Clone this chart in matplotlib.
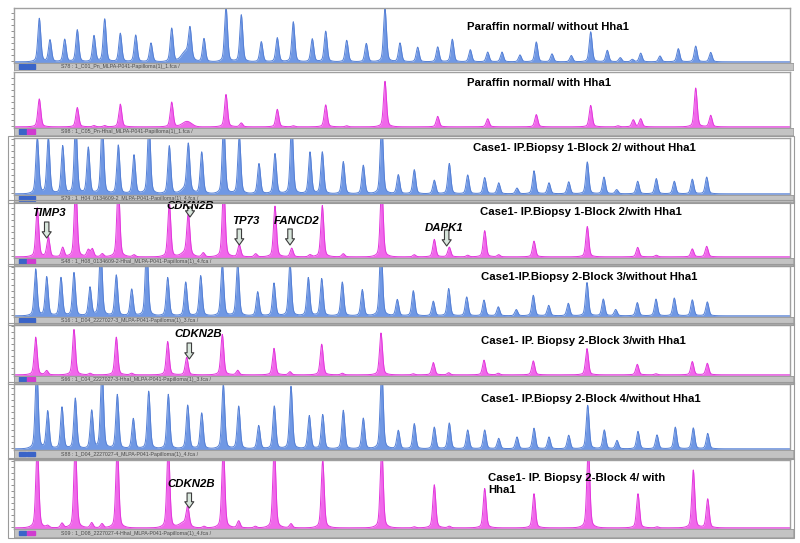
import matplotlib
matplotlib.use("Agg")
import matplotlib.pyplot as plt
from matplotlib.patches import Rectangle
import numpy as np

plt.rcParams['font.family'] = ['Liberation Sans', 'DejaVu Sans']

# peak positions (x, read in pixels) and heights (pixels above baseline) per trace
p1_pos = [39.3, 50, 64.7, 77.3, 94, 104.7, 120.3, 135.7, 151, 171.7, 190, 204, 226, 241.3, 261.3, 277.3,
          293.3, 312.3, 325.7, 346.7, 366.3, 385, 400, 417.7, 437.7, 452.3, 470.3, 487.7, 502, 520, 536.3,
          552, 571.3, 590.7, 607.3, 620.3, 632.3, 640.7, 660, 678.3, 695.7, 710.7]
p1_h = [41.6, 21, 21.6, 30.6, 25, 41, 27.3, 25.6, 18, 32.3, 27.3, 22.3, 53.3, 45, 19.3, 23, 38.3, 22, 29.3,
        20.6, 17.6, 51, 18, 14, 14.3, 21.6, 11.6, 9.3, 9.3, 6.6, 19, 7.6, 6, 28.6, 11, 4, 2.3, 8.3, 5.6,
        12.6, 15, 9]

p2_pos = [39.3, 77.3, 94, 104.7, 120.3, 171.7, 226, 241.3, 277.3, 293.3, 325.7, 346.7, 385, 437.7, 487.7,
          536.3, 590.7, 618, 633.3, 640.7, 695.7, 710.7]
p2_h = [26.7, 18.4, 1.2, 1.2, 21.7, 23.7, 31, 3.7, 16.7, 1, 21, 1, 43.4, 10, 7.7, 11.7, 20.4, 1, 6.7, 7.7,
        37, 11]

p3_pos = [37.3, 48.3, 62.7, 75.7, 88.3, 102.3, 118.3, 134, 149, 169.3, 188.3, 201.7, 223.7, 239.3, 259,
          275, 291.7, 310, 322.3, 343.3, 363.3, 381.7, 398.3, 414.3, 434.3, 449.3, 467.7, 484.7, 498.7, 517,
          534, 549, 568.7, 587.3, 604, 616.7, 637.7, 656.3, 674.3, 692.3, 706.7]
p3_h = [54, 54, 45.7, 70, 44.3, 70, 46.7, 37.3, 70, 46, 44.3, 40, 70, 56, 29, 38.3, 70, 40, 40, 30.7, 27.3,
        70, 18.3, 23, 13, 29, 18, 15.5, 10.5, 5.5, 22, 10.5, 11.5, 30.5, 16, 4, 12, 14.5, 12, 14, 16]

p4_pos = [37.3, 48.3, 62.7, 75.7, 88.3, 92.3, 102.3, 118.3, 134, 169.3, 188.3, 203.3, 223.7, 239.3, 255.7,
          275, 291.7, 310, 322.3, 343.3, 381.7, 414.3, 434.3, 449.3, 467.7, 484.7, 498.7, 534, 587.3,
          637.7, 656.3, 692.3, 706.7]
p4_h = [46.6, 19, 9, 70, 6.6, 7.5, 3, 70, 2, 52, 39, 4, 70, 11.6, 3, 48.3, 8.3, 2, 49, 3, 70, 2, 16.6, 9.3,
        1.5, 25, 2, 15, 29, 9, 1.5, 7.6, 10]

p5_pos = [35.7, 46.7, 61, 74, 90, 100.7, 116.3, 131.7, 146.7, 167.7, 185.7, 200.7, 222.3, 237.7, 257.7,
          274, 290, 308.3, 321.7, 342.3, 362.3, 381, 397.3, 413.3, 433.3, 448.7, 466.7, 484, 498.3, 516.3,
          533.3, 548.7, 568.3, 587, 603.3, 615.7, 637.3, 656, 674.3, 692.3, 707.3]
p5_h = [44.6, 37.3, 36.6, 41.3, 27.3, 70, 39, 25.6, 70, 36.6, 32.3, 38.3, 50, 50.6, 23, 31.3, 50.6, 36.6,
        35.6, 32.3, 25, 70, 15.6, 24, 14, 26, 18, 15, 8.6, 6, 19.6, 10, 12, 31.7, 16, 6, 12.6, 16, 17,
        15.3, 13.3]

p6_pos = [35.7, 46.7, 74, 90, 116.3, 131.7, 167.7, 186.7, 222.3, 237.7, 274, 290, 321.7, 342.3, 381,
          413.3, 433.3, 448.7, 484, 498.3, 533.3, 587, 637.3, 656, 692.3, 707.3]
p6_h = [36, 4, 43.3, 1.5, 36, 1.5, 31.7, 16.7, 38.7, 4.3, 25.3, 3, 29.3, 1.5, 40, 1, 11.7, 2, 14, 1.5,
        13.3, 25, 10, 1, 12.7, 11]

p7_pos = [36.7, 47.7, 62, 75.3, 91.7, 102, 117.3, 133.3, 148.7, 168.3, 187.7, 201.7, 223.3, 238.7, 258.7,
          274.3, 291, 309.3, 322.7, 343.3, 363.3, 381.7, 398.3, 414.3, 434.3, 449.3, 467.7, 484.7, 498.7,
          517, 534, 549, 568.7, 587.7, 604.3, 617, 638, 657, 675.3, 693.3, 707.7]
p7_h = [80, 36, 40, 48.3, 36.7, 80, 52, 29, 55, 52, 41.7, 34.3, 62, 40.7, 22.3, 41, 60, 31.7, 32.7, 36.7,
        29.3, 80, 17.7, 24, 20.7, 24.7, 18, 18, 10, 11.3, 19.7, 11.3, 13, 41.7, 18, 8, 16.7, 13.3, 20.7,
        20, 14.7]

p8_pos = [37.3, 47.7, 62, 75.3, 91.7, 102, 117.3, 168.3, 187.7, 204, 223.3, 238.7, 255.3, 274.3, 291,
          322.7, 381.7, 414.3, 434.3, 449.3, 484.7, 534, 588.3, 638, 657, 693.3, 707.7]
p8_h = [80, 2, 4.5, 80, 5, 4, 80, 80, 17.7, 1.5, 80, 6.7, 1.5, 80, 4, 65, 80, 1, 41, 1.5, 37.6, 32.6, 80,
        32.6, 1, 55.3, 27.6]

# broad humps under some peaks: (position, height)
humps = {0: [(186, 10)], 1: [(187, 5.4)], 2: [(186, 5)], 3: [(186, 4)], 7: [(184, 5)]}

titles = ["Paraffin normal/ without Hha1",
          "Paraffin normal/ with Hha1",
          "Case1- IP.Biopsy 1-Block 2/ without Hha1",
          "Case1- IP.Biopsy 1-Block 2/with Hha1",
          "Case1-IP.Biopsy 2-Block 3/without Hha1",
          "Case1- IP. Biopsy 2-Block 3/with Hha1",
          "Case1- IP.Biopsy 2-Block 4/without Hha1",
          "Case1- IP. Biopsy 2-Block 4/ with\nHha1"]

files = ["S78 : 1_C01_Pn_MLPA-P041-Papilloma(1)_1.fca /",
         "S98 : 1_C05_Pn-HhaI_MLPA-P041-Papilloma(1)_1.fca /",
         "S79 : 1_H04_0134609-2_MLPA-P041-Papilloma(1)_4.fca /",
         "S48 : 1_H08_0134609-2-HhaI_MLPA-P041-Papilloma(1)_4.fca /",
         "S16 : 1_D04_2227027-3_MLPA-P041-Papilloma(1)_3.fca /",
         "S66 : 1_C04_2227027-3-HhaI_MLPA-P041-Papilloma(1)_3.fca /",
         "S88 : 1_D04_2227027-4_MLPA-P041-Papilloma(1)_4.fca /",
         "S09 : 1_D08_2227027-4-HhaI_MLPA-P041-Papilloma(1)_4.fca /"]

# gene labels: panel, name, arrow x, arrow tail y, arrow tip y, text x, text y (figure pixels)
genes = [(3, "TIMP3", 46.7, 222, 238, 49, 213),
         (3, "CDKN2B", 190, 207, 217, 190, 206),
         (3, "TP73", 239.3, 229, 245, 246, 221),
         (3, "FANCD2", 290, 229, 245, 297, 221),
         (3, "DAPK1", 446.7, 230, 246, 444, 228),
         (5, "CDKN2B", 189.3, 343, 359, 198, 334),
         (7, "CDKN2B", 189.3, 493, 508, 191, 484)]

all_pos = [p1_pos, p2_pos, p3_pos, p4_pos, p5_pos, p6_pos, p7_pos, p8_pos]
all_h = [p1_h, p2_h, p3_h, p4_h, p5_h, p6_h, p7_h, p8_h]

# layout in pixels: plot top, plot bottom, strip bottom
boxes = [(8, 63, 70), (72, 128, 135), (138, 195, 202), (202, 258, 265),
         (266, 317, 324), (325, 376, 383), (384, 450, 458), (460, 529, 537)]
title_xy = [(467, 27), (467, 83), (473, 148), (480, 212), (481, 277), (481, 341), (481, 399), (488, 484)]

W, H = 800, 543
X0, X1 = 14, 790
blue_fill, blue_line = '#7098e4', '#5580d6'
pink_fill, pink_line = '#f068ea', '#e236dc'

fig = plt.figure(figsize=(W / 100, H / 100), dpi=100)
fig.patch.set_facecolor('white')

x = np.linspace(X0, X1, 4000)


def trace(pos, h, hump):
    y = np.full_like(x, 1.2)
    for p, a in zip(pos, h):
        d = x - p
        y += 0.85 * a * np.exp(-0.5 * (d / 1.45) ** 2) + 0.2 * a * np.exp(-np.abs(d) / 3.2)
    for p, a in hump:
        y += a * np.exp(-0.5 * ((x - p) / 4.5) ** 2)
    return y


axes = []
for i, (top, bot, sbot) in enumerate(boxes):
    pink = i % 2 == 1
    if i >= 2:
        fig.patches.append(Rectangle((8 / W, 1 - (sbot + 1) / H), (794 - 8) / W, (sbot - top + 3) / H,
                                     transform=fig.transFigure, fill=False, ec='#9a9a9a', lw=0.8))
    ax = fig.add_axes([X0 / W, 1 - bot / H, (X1 - X0) / W, (bot - top) / H])
    ax.set_xlim(X0, X1)
    ax.set_ylim(0, bot - top)
    y = trace(all_pos[i], all_h[i], humps.get(i, []))
    ax.fill_between(x, 0, y, color=pink_fill if pink else blue_fill, lw=0)
    ax.plot(x, y, color=pink_line if pink else blue_line, lw=0.7)
    ax.set_xticks([])
    ax.set_yticks(np.arange(2, bot - top, 6))
    ax.tick_params(axis='y', length=2.5, width=0.6, color='#808080', labelleft=False)
    for s in ax.spines.values():
        s.set_color('#a0a0a0')
        s.set_linewidth(1.0)
    tx, ty = title_xy[i]
    ax.text(tx, bot - ty, titles[i], fontsize=8.2, fontweight='bold', ha='left',
            va='center', linespacing=1.3)

    # grey file strip under each trace
    sax = fig.add_axes([X0 / W, 1 - sbot / H, (X1 + 3 - X0) / W, (sbot - bot) / H])
    sax.set_facecolor('#c3c3c3')
    sax.set_xticks([])
    sax.set_yticks([])
    for s in sax.spines.values():
        s.set_color('#9a9a9a')
        s.set_linewidth(0.6)
    sax.add_patch(Rectangle((0.006, 0.2), 0.01, 0.6, transform=sax.transAxes, color='#3a64c8'))
    sax.add_patch(Rectangle((0.017, 0.2), 0.01, 0.6, transform=sax.transAxes,
                            color='#d03cd0' if pink else '#3a64c8'))
    sax.text(0.06, 0.45, files[i], transform=sax.transAxes, fontsize=3.8, color='#4a4a4a', va='center')
    axes.append(ax)

for i, name, ax_x, tail, tip, tx, ty in genes:
    bot = boxes[i][1]
    ax = axes[i]
    ax.annotate('', xy=(ax_x, bot - tip), xytext=(ax_x, bot - tail),
                arrowprops=dict(arrowstyle='simple,head_length=0.45,head_width=0.65,tail_width=0.32',
                                mutation_scale=10, shrinkA=0, shrinkB=0,
                                fc='#d8e6dc', ec='#3c3c3c', lw=0.8),
                annotation_clip=False)
    ax.text(tx, bot - ty, name, fontsize=8.2, fontweight='bold', fontstyle='italic',
            ha='center', va='center', clip_on=False)

fig.savefig('out.png', dpi=100, facecolor='white')
